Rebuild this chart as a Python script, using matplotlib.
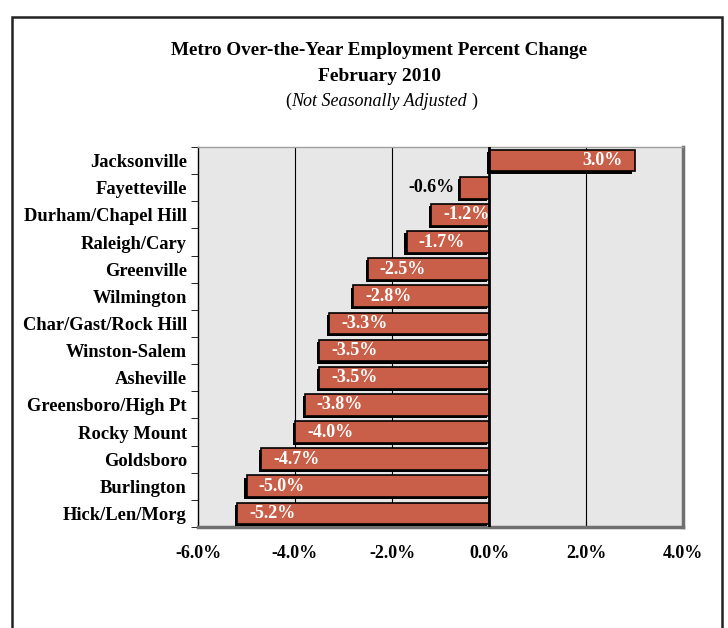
import numpy as np
import matplotlib.pyplot as plt
import matplotlib.patheffects as pe
from matplotlib.patches import Rectangle

# metro areas, top to bottom as in the chart
metros = ['Jacksonville', 'Fayetteville', 'Durham/Chapel Hill', 'Raleigh/Cary',
          'Greenville', 'Wilmington', 'Char/Gast/Rock Hill', 'Winston-Salem',
          'Asheville', 'Greensboro/High Pt', 'Rocky Mount', 'Goldsboro',
          'Burlington', 'Hick/Len/Morg']
# over-the-year percent change, Feb 2010
pct_change = [3.0, -0.6, -1.2, -1.7, -2.5, -2.8, -3.3, -3.5, -3.5, -3.8,
              -4.0, -4.7, -5.0, -5.2]
x_ticks = [-6, -4, -2, 0, 2, 4]

plt.rcParams['font.family'] = ['Liberation Serif', 'DejaVu Serif']

fig = plt.figure(figsize=(7.28, 6.28), dpi=100)
fig.patch.set_facecolor('white')

# outer frame
fig.patches.append(Rectangle((12 / 728, -0.02), 710 / 728, 0.993,
                             transform=fig.transFigure, fill=False,
                             edgecolor='#222222', linewidth=1.8))

fig.text(0.521, 0.920, 'Metro Over-the-Year Employment Percent Change',
         ha='center', va='center', fontsize=13.8, fontweight='bold')
fig.text(0.521, 0.878, 'February 2010', ha='center', va='center',
         fontsize=14, fontweight='bold')

# subtitle: italic words with upright parentheses
sub = fig.text(0.521, 0.838, 'Not Seasonally Adjusted', ha='center',
               va='center', fontsize=13, fontstyle='italic')
fig.canvas.draw()
bb = sub.get_window_extent().transformed(fig.transFigure.inverted())
fig.text(bb.x0, 0.838, '(', ha='right', va='center', fontsize=13)
fig.text(bb.x1 + 0.006, 0.838, ')', ha='left', va='center', fontsize=13)

ax = fig.add_axes([198 / 728, 101 / 628, 485 / 728, 380 / 628])
ax.set_facecolor('#e7e7e7')

y = np.arange(len(metros))
bars = ax.barh(y, pct_change, height=0.8, color='#c95f48', edgecolor='black',
               linewidth=1.2, zorder=3)
for b in bars:
    b.set_path_effects([pe.SimplePatchShadow(offset=(-1.5, -1.5),
                                             shadow_rgbFace='black', alpha=1),
                        pe.Normal()])

for yi, v in zip(y, pct_change):
    txt = f'{v:.1f}%'
    if v > 0:
        ax.text(v - 0.25, yi, txt, ha='right', va='center', color='white',
                fontsize=13, fontweight='bold', zorder=4)
    elif v > -1:
        ax.text(v - 0.1, yi, txt, ha='right', va='center', color='black',
                fontsize=13, fontweight='bold', zorder=4)
    else:
        ax.text(v + 0.25, yi, txt, ha='left', va='center', color='white',
                fontsize=13, fontweight='bold', zorder=4)

ax.axvline(0, color='black', linewidth=2, zorder=4)
for xv in [-4, -2, 2]:
    ax.axvline(xv, color='black', linewidth=0.8, zorder=1)

ax.set_xlim(-6, 4)
ax.set_ylim(len(metros) - 0.5, -0.5)
ax.set_xticks(x_ticks)
ax.set_xticklabels([f'{t:.1f}%' for t in x_ticks], fontsize=13,
                   fontweight='bold')
ax.tick_params(axis='x', direction='in', length=4, pad=13)

ax.set_yticks(y)
ax.set_yticklabels(metros, fontsize=13.3, fontweight='bold')
ax.tick_params(axis='y', length=0, pad=8)
ax.set_yticks(np.arange(len(metros) + 1) - 0.5, minor=True)
ax.tick_params(axis='y', which='minor', direction='out', length=5)

ax.spines['left'].set_color('black')
ax.spines['left'].set_linewidth(1)
for s in ['right', 'bottom']:
    ax.spines[s].set_color('#707070')
    ax.spines[s].set_linewidth(2.5)
ax.spines['top'].set_color('#a0a0a0')
ax.spines['top'].set_linewidth(1)

fig.savefig('out.png', dpi=100)
